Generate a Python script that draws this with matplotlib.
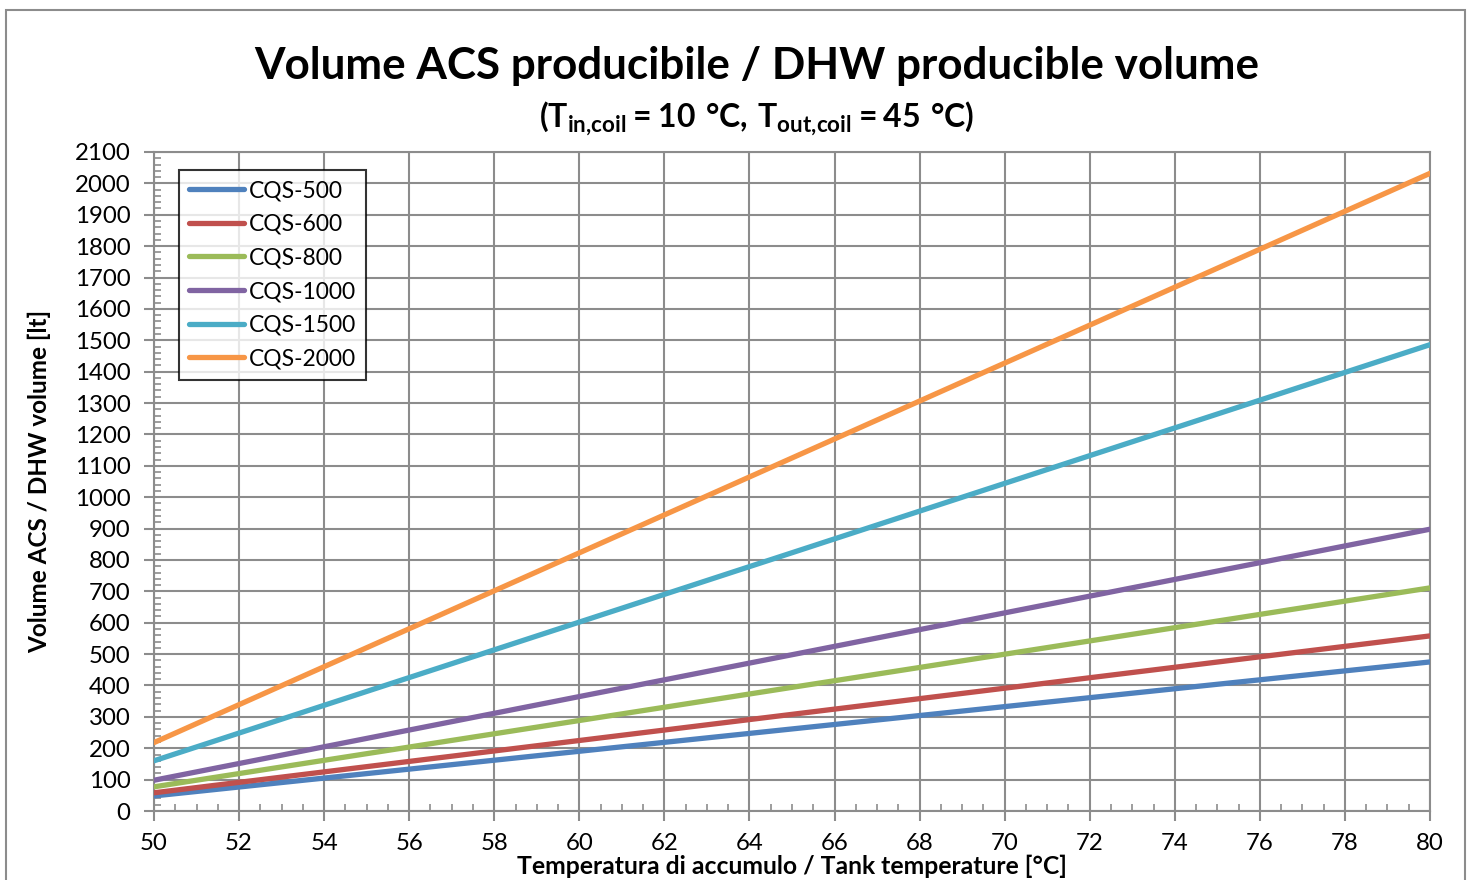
import matplotlib
matplotlib.use("Agg")
import matplotlib.pyplot as plt
from matplotlib.ticker import MultipleLocator
from matplotlib.patches import Rectangle

plt.rcParams['font.family'] = ['Lato', 'DejaVu Sans']
plt.rcParams['mathtext.fontset'] = 'custom'
plt.rcParams['mathtext.rm'] = 'Lato'
plt.rcParams['mathtext.bf'] = 'Lato:bold'

# tank temperature [°C]
temps = [50, 80]

labels = ["CQS-500", "CQS-600", "CQS-800", "CQS-1000", "CQS-1500", "CQS-2000"]
cqs500 = [48, 475]
cqs600 = [58, 558]
cqs800 = [77, 711]
cqs1000 = [98, 898]
cqs1500 = [160, 1486]
cqs2000 = [218, 2032]
series = [cqs500, cqs600, cqs800, cqs1000, cqs1500, cqs2000]
colors = ['#4F81BD', '#C0504D', '#9BBB59', '#8064A2', '#4BACC6', '#F79646']

fig = plt.figure(figsize=(14.72, 8.8), dpi=100)
ax = fig.add_axes([154/1472, 69/880, (1430-154)/1472, (811-152)/880])

# outer chart border
fig.patches.append(Rectangle((6/1472, -0.05), (1465-6)/1472, 1.0 - 10/880 + 0.05,
                             transform=fig.transFigure, fill=False,
                             edgecolor='#8c8c8c', linewidth=1.5))

for vals, lab, c in zip(series, labels, colors):
    ax.plot(temps, vals, color=c, linewidth=3.8, label=lab, solid_capstyle='round', zorder=3)

ax.set_xlim(50, 80)
ax.set_ylim(0, 2100)
ax.xaxis.set_major_locator(MultipleLocator(2))
ax.xaxis.set_minor_locator(MultipleLocator(0.5))
ax.yaxis.set_major_locator(MultipleLocator(100))
ax.yaxis.set_minor_locator(MultipleLocator(20))

ax.grid(True, which='major', color='#8c8c8c', linewidth=1.5)
for s in ax.spines.values():
    s.set_color('#8c8c8c')
    s.set_linewidth(1.5)

ax.tick_params(axis='both', which='major', direction='out', length=7, width=1.5,
               color='#8c8c8c', labelsize=17.3)
ax.tick_params(axis='both', which='minor', direction='in', length=5, width=1.2,
               color='#8c8c8c')
ax.tick_params(axis='x', which='major', pad=9)
ax.tick_params(axis='y', which='major', pad=10)

ax.set_xlabel("Temperatura di accumulo / Tank temperature [°C]", fontsize=17.8,
              fontweight='bold', labelpad=0)
ax.set_ylabel("Volume ACS / DHW volume [lt]", fontsize=17.5, fontweight='bold')
ax.yaxis.set_label_coords(-103/1276, 0.5)

fig.text(757/1472, 1 - 66/880, "Volume ACS producibile / DHW producible volume",
         ha='center', va='center', fontsize=31.7, fontweight='bold')
fig.text(757/1472, 1 - 119/880,
         r"$\mathbf{(T_{in{,}coil}= 10\ °C{,}\ T_{out{,}coil}= 45\ °C)}$",
         ha='center', va='center', fontsize=23)

leg = ax.legend(loc='upper left', bbox_to_anchor=(25/1276, 1 - 18/659), fontsize=16.5,
                frameon=True, fancybox=False, handlelength=2.4, handletextpad=0.2,
                labelspacing=0.55, borderpad=0.45, borderaxespad=0)
leg.get_frame().set_edgecolor('black')
leg.get_frame().set_linewidth(1.5)

fig.savefig("out.png", dpi=100)
